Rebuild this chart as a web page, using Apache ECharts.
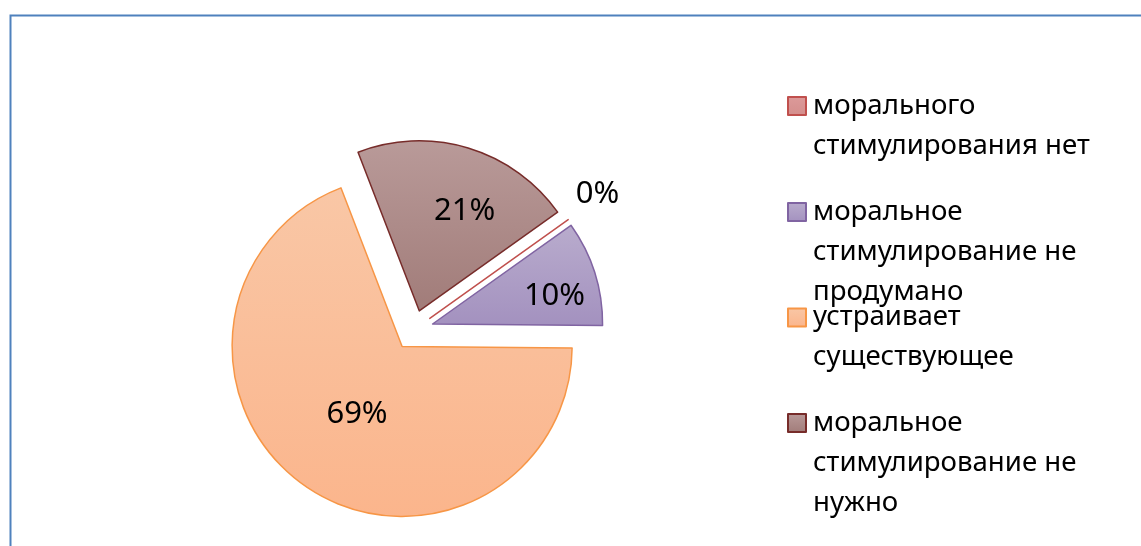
<!DOCTYPE html>
<html>
<head>
<meta charset="utf-8">
<script src="https://cdn.jsdelivr.net/npm/echarts@6/dist/echarts.min.js"></script>
<style>
  html, body { margin: 0; padding: 0; background: #ffffff; }
  #chart { width: 1141px; height: 546px; }
</style>
</head>
<body>
<div id="chart"></div>
<script>
// ---- data ----
const categories = [
  'морального стимулирования нет',
  'моральное стимулирование не продумано',
  'устраивает существующее',
  'моральное стимулирование не нужно'
];
const values = [0, 10, 69, 21];           // percent
const percentLabels = ['0%', '10%', '69%', '21%'];
// legend text as wrapped in the picture
const legendLines = [
  ['морального', 'стимулирования нет'],
  ['моральное', 'стимулирование не', 'продумано'],
  ['устраивает', 'существующее'],
  ['моральное', 'стимулирование не', 'нужно']
];

// ---- styles / layout ----
const fillTop    = ['#dc9a9a', '#b9accd', '#f9c7a6', '#b99a99'];
const fillBottom = ['#d48e8c', '#a391bf', '#fbb58c', '#a17c79'];
const borderCols = ['#c0504d', '#8064a2', '#f79646', '#772c2a'];
const labelShift = [[96, -73], [38, -1], [5, -5], [20, -15]];
const legendIconCenters = [106, 212, 317.5, 423];
const FONT = 'Noto Sans';
const LH = 40;
const LEGEND_FONT = 27.6;

const chart = echarts.init(document.getElementById('chart'), null, { renderer: 'canvas' });

const seriesData = categories.map((name, i) => ({
  name: name,
  value: values[i],
  selected: true,
  itemStyle: {
    color: {
      type: 'linear', x: 0, y: 0, x2: 0, y2: 1,
      colorStops: [{ offset: 0, color: fillTop[i] }, { offset: 1, color: fillBottom[i] }]
    },
    borderColor: borderCols[i],
    borderWidth: 1.5
  },
  label: { formatter: percentLabels[i] }
}));

const legends = categories.map((name, i) => ({
  orient: 'vertical',
  left: 787,
  top: legendIconCenters[i] - LH / 2,
  padding: 0,
  itemWidth: 18,
  itemHeight: 18,
  icon: 'rect',
  selectedMode: false,
  data: [name],
  formatter: function (n) {
    return legendLines[categories.indexOf(n)].join('\n');
  },
  textStyle: {
    fontFamily: FONT,
    fontSize: LEGEND_FONT,
    color: '#000000',
    lineHeight: LH,
    height: LH,
    padding: [0, 0, 0, 2],
    rich: { t: { fontFamily: FONT, fontSize: LEGEND_FONT, color: '#000000', lineHeight: LH } }
  }
}));

chart.setOption({
  animation: false,
  backgroundColor: '#ffffff',
  graphic: [{
    type: 'rect',
    left: 8, top: 13,
    shape: { x: 0, y: 0, width: 1300, height: 700 },
    style: { fill: 'none', stroke: '#4f81bd', lineWidth: 2 },
    silent: true
  }],
  legend: legends,
  series: [{
    type: 'pie',
    center: [413.5, 330],
    radius: 170,
    startAngle: 35.5,
    clockwise: true,
    selectedMode: 'multiple',
    selectedOffset: 20,
    avoidLabelOverlap: false,
    emphasis: { disabled: true },
    label: {
      show: true,
      position: 'inside',
      fontFamily: FONT,
      fontSize: 31,
      color: '#000000'
    },
    labelLine: { show: false },
    labelLayout: function (p) {
      const s = labelShift[p.dataIndex];
      return { dx: s[0], dy: s[1] };
    },
    data: seriesData
  }]
});
</script>
</body>
</html>
